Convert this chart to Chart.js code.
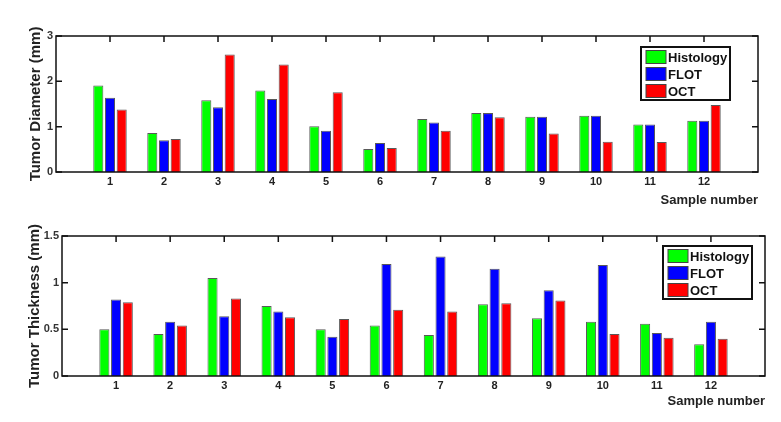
<!DOCTYPE html>
<html>
<head>
<meta charset="utf-8">
<script src="https://cdn.jsdelivr.net/npm/chart.js@4.4.0/dist/chart.umd.min.js"></script>
<style>
    html, body { margin: 0; padding: 0; background: #fff; }
    .panel { position: absolute; left: 0; width: 781px; height: 210px; }
</style>
</head>
<body>
<div class="panel" style="top:0px"><canvas id="graficoDiametro"></canvas></div>
<div class="panel" style="top:212px"><canvas id="graficoEspesor"></canvas></div>
<script>
const sampleNumbers = [1, 2, 3, 4, 5, 6, 7, 8, 9, 10, 11, 12];
const seriesLabels = ['Histology', 'FLOT', 'OCT'];
const seriesColors = ['rgb(0,255,0)', 'rgb(0,0,255)', 'rgb(255,0,0)'];

const diameterHistology = [1.91, 0.86, 1.58, 1.80, 1.01, 0.51, 1.17, 1.30, 1.22, 1.24, 1.05, 1.13];
const diameterFlot      = [1.64, 0.70, 1.43, 1.61, 0.91, 0.64, 1.09, 1.30, 1.22, 1.24, 1.05, 1.13];
const diameterOct       = [1.38, 0.73, 2.59, 2.37, 1.76, 0.53, 0.91, 1.21, 0.85, 0.67, 0.66, 1.48];
const diameterTicks = [0, 1, 2, 3];

const thicknessHistology = [0.50, 0.45, 1.05, 0.75, 0.50, 0.54, 0.44, 0.77, 0.62, 0.58, 0.56, 0.34];
const thicknessFlot      = [0.82, 0.58, 0.64, 0.69, 0.42, 1.20, 1.28, 1.15, 0.92, 1.19, 0.46, 0.58];
const thicknessOct       = [0.79, 0.54, 0.83, 0.63, 0.61, 0.71, 0.69, 0.78, 0.81, 0.45, 0.41, 0.40];
const thicknessTicks = [0, 0.5, 1, 1.5];

// ticks hacia dentro (detras de las barras)
const ticksPlugin = {
    id: 'ticksDentro',
    beforeDatasetsDraw(chart) {
        const { ctx, chartArea: a, scales: { x, y } } = chart;
        ctx.save();
        ctx.strokeStyle = '#111';
        ctx.lineWidth = 1.5;
        ctx.beginPath();
        x.ticks.forEach(t => {
            const px = x.getPixelForValue(t.value);
            ctx.moveTo(px, a.top); ctx.lineTo(px, a.top + 6);
            ctx.moveTo(px, a.bottom); ctx.lineTo(px, a.bottom - 6);
        });
        y.ticks.forEach(t => {
            const py = y.getPixelForValue(t.value);
            ctx.moveTo(a.left, py); ctx.lineTo(a.left + 6, py);
            ctx.moveTo(a.right, py); ctx.lineTo(a.right - 6, py);
        });
        ctx.stroke();
        ctx.restore();
    },
    afterDatasetsDraw(chart) {
        const { ctx, chartArea: a } = chart;
        ctx.save();
        ctx.strokeStyle = '#111';
        ctx.lineWidth = 1.5;
        ctx.strokeRect(a.left, a.top, a.right - a.left, a.bottom - a.top);
        ctx.restore();
    }
};

// leyenda con marco dentro del area del grafico
const leyendaPlugin = {
    id: 'leyendaCaja',
    afterDraw(chart, args, opts) {
        const { ctx, chartArea: a } = chart;
        const w = 89, h = 53;
        const left = a.right - opts.right - w;
        const top = a.top + opts.top;
        ctx.save();
        ctx.fillStyle = '#fff';
        ctx.fillRect(left, top, w, h);
        ctx.strokeStyle = '#111';
        ctx.lineWidth = 2;
        ctx.strokeRect(left, top, w, h);
        ctx.font = 'bold 13px "Liberation Sans", Arial, sans-serif';
        ctx.textBaseline = 'middle';
        chart.data.datasets.forEach((ds, i) => {
            const cy = top + 10 + i * 17;
            ctx.fillStyle = ds.backgroundColor;
            ctx.fillRect(left + 5, cy - 6.5, 20, 13);
            ctx.strokeStyle = '#444';
            ctx.lineWidth = 1;
            ctx.strokeRect(left + 5, cy - 6.5, 20, 13);
            ctx.fillStyle = '#111';
            ctx.fillText(ds.label, left + 27, cy + 1);
        });
        ctx.restore();
    }
};

function crearGraficoBarras(canvasId, series, yTicks, yTitle, caja) {
    const graph = document.querySelector(canvasId);

    const datasets = series.map((values, i) => ({
        label: seriesLabels[i],
        data: sampleNumbers.map((n, j) => ({ x: n, y: values[j] })),
        backgroundColor: seriesColors[i],
        borderColor: 'rgba(60,60,60,0.85)',
        borderWidth: 1,
        categoryPercentage: 0.65,
        barPercentage: 0.86
    }));

    const config = {
        type: 'bar',
        data: { datasets: datasets },
        plugins: [ticksPlugin, leyendaPlugin],
        options: {
            responsive: true,
            maintainAspectRatio: false,
            animation: false,
            layout: { padding: { left: 0, top: caja.padTop, right: caja.padRight, bottom: 0 } },
            plugins: {
                legend: { display: false },
                tooltip: { enabled: true },
                leyendaCaja: { right: caja.legRight, top: caja.legTop }
            },
            scales: {
                x: {
                    type: 'linear',
                    offset: false,
                    min: 0,
                    max: sampleNumbers.length + 1,
                    grid: { display: false, drawTicks: false },
                    border: { display: false },
                    afterBuildTicks: (scale) => { scale.ticks = sampleNumbers.map(v => ({ value: v })); },
                    afterFit: (scale) => { scale.height = caja.xHeight; },
                    ticks: {
                        autoSkip: false,
                        maxRotation: 0,
                        padding: 3,
                        color: '#222',
                        callback: (v) => String(v),
                        font: { family: '"Liberation Sans", Arial, sans-serif', size: 11, weight: 'bold' }
                    },
                    title: {
                        display: true,
                        text: 'Sample number',
                        align: 'end',
                        color: '#222',
                        padding: { top: 0, bottom: caja.xTitlePad },
                        font: { family: '"Liberation Sans", Arial, sans-serif', size: 13, weight: 'bold' }
                    }
                },
                y: {
                    min: yTicks[0],
                    max: yTicks[yTicks.length - 1],
                    grid: { display: false, drawTicks: false },
                    border: { display: false },
                    afterBuildTicks: (scale) => { scale.ticks = yTicks.map(v => ({ value: v })); },
                    afterFit: (scale) => { scale.width = caja.yWidth; },
                    ticks: {
                        padding: 3,
                        color: '#333',
                        callback: (v) => String(v),
                        font: { family: '"Liberation Sans", Arial, sans-serif', size: 11, weight: 'bold' }
                    },
                    title: {
                        display: true,
                        text: yTitle,
                        color: '#222',
                        padding: { top: caja.yTitlePad, bottom: 0 },
                        font: { family: '"Liberation Sans", Arial, sans-serif', size: 15, weight: 'bold' }
                    }
                }
            }
        }
    };

    return new Chart(graph, config);
}

crearGraficoBarras('#graficoDiametro',
    [diameterHistology, diameterFlot, diameterOct], diameterTicks, 'Tumor Diameter (mm)',
    { padTop: 36, padRight: 23, yWidth: 56, xHeight: 38, xTitlePad: 2, yTitlePad: 27, legRight: 28, legTop: 11 });

crearGraficoBarras('#graficoEspesor',
    [thicknessHistology, thicknessFlot, thicknessOct], thicknessTicks, 'Tumor Thickness (mm)',
    { padTop: 24, padRight: 16, yWidth: 62, xHeight: 46, xTitlePad: 13, yTitlePad: 26, legRight: 13, legTop: 10 });
</script>
</body>
</html>
